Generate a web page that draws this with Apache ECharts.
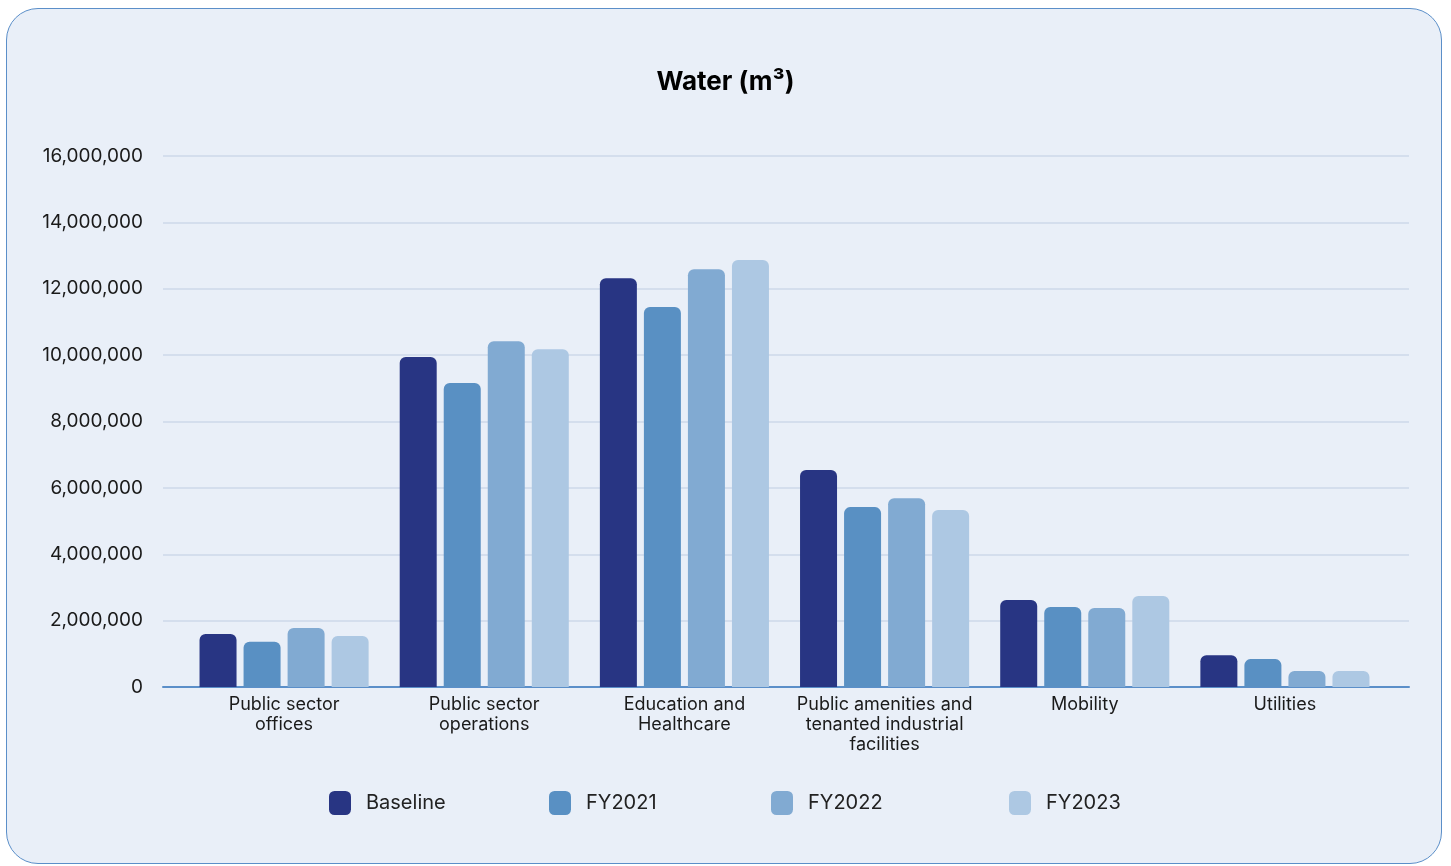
<!DOCTYPE html>
<html>
<head>
<meta charset="utf-8">
<script src="https://cdn.jsdelivr.net/npm/echarts@6/dist/echarts.min.js"></script>
<style>
  html, body { margin: 0; padding: 0; background: #ffffff; width: 1451px; height: 866px; overflow: hidden; }
  #card {
    position: absolute; left: 6px; top: 8px; width: 1434px; height: 854px;
    background: #e9eff8; border: 1.5px solid #5b8fc9; border-radius: 32px;
  }
  #chart { position: absolute; left: 0; top: 0; width: 1451px; height: 866px; }
</style>
</head>
<body>
<div id="card"></div>
<div id="chart"></div>
<script>
// Water consumption (m³) by asset category
const categories = [
  'Public sector\noffices',
  'Public sector\noperations',
  'Education and\nHealthcare',
  'Public amenities and\ntenanted industrial\nfacilities',
  'Mobility',
  'Utilities'
];
const seriesNames = ['Baseline', 'FY2021', 'FY2022', 'FY2023'];
const baseline = [1600000, 9940000, 12320000, 6540000, 2620000, 960000];
const fy2021   = [1360000, 9160000, 11450000, 5420000, 2410000, 840000];
const fy2022   = [1780000, 10420000, 12590000, 5690000, 2380000, 480000];
const fy2023   = [1540000, 10180000, 12870000, 5330000, 2740000, 480000];
const colors = ['#283583', '#5990c3', '#81aad2', '#adc8e3'];
const yTicks = { min: 0, max: 16000000, interval: 2000000 };

const values = [baseline, fy2021, fy2022, fy2023];
const font = 'Inter, "Noto Sans", sans-serif';
const legendLeft = [329, 549, 771, 1009];

const chart = echarts.init(document.getElementById('chart'), null, { renderer: 'canvas' });
chart.setOption({
  backgroundColor: 'transparent',
  animation: false,
  title: {
    text: 'Water (m³)',
    left: 'center',
    top: 64,
    textStyle: { fontFamily: font, fontSize: 26, fontWeight: 'bold', color: '#000000' }
  },
  legend: seriesNames.map((n, i) => ({
    data: [n],
    left: legendLeft[i],
    top: 791,
    padding: 0,
    icon: 'roundRect',
    itemWidth: 22,
    itemHeight: 24,
    itemGap: 0,
    textStyle: { fontFamily: font, fontSize: 20, color: '#222222', padding: [0, 0, 0, 10] }
  })),
  // grid 0: full-width frame carrying the value axis, gridlines and baseline;
  // grid 1: inset plotting area for the category bars
  grid: [
    { left: 163, right: 42, top: 156, bottom: 179 },
    { left: 184, right: 66, top: 156, bottom: 179 }
  ],
  xAxis: [
    {
      type: 'category', gridIndex: 0, data: categories,
      axisLine: { lineStyle: { color: '#5b8fc9', width: 2 } },
      axisTick: { show: false }, axisLabel: { show: false }
    },
    {
      type: 'category', gridIndex: 1, data: categories,
      axisLine: { show: false }, axisTick: { show: false },
      axisLabel: {
        fontFamily: font, fontSize: 18, color: '#1a1a1a', lineHeight: 20, margin: 8, interval: 0
      }
    }
  ],
  yAxis: [
    {
      type: 'value', gridIndex: 0,
      min: yTicks.min, max: yTicks.max, interval: yTicks.interval,
      axisLine: { show: false }, axisTick: { show: false },
      splitLine: { lineStyle: { color: '#cdd9ea', width: 1.5 } },
      axisLabel: {
        fontFamily: font, fontSize: 19, color: '#1a1a1a', margin: 20,
        formatter: v => v.toLocaleString('en-US')
      }
    },
    {
      type: 'value', gridIndex: 1,
      min: yTicks.min, max: yTicks.max, interval: yTicks.interval,
      axisLine: { show: false }, axisTick: { show: false },
      splitLine: { show: false }, axisLabel: { show: false }
    }
  ],
  series: seriesNames.map((n, i) => ({
    name: n,
    type: 'bar',
    xAxisIndex: 1,
    yAxisIndex: 1,
    data: values[i],
    barWidth: 37,
    barGap: '19%',
    itemStyle: { color: colors[i], borderRadius: [6, 6, 0, 0] }
  }))
});
</script>
</body>
</html>
